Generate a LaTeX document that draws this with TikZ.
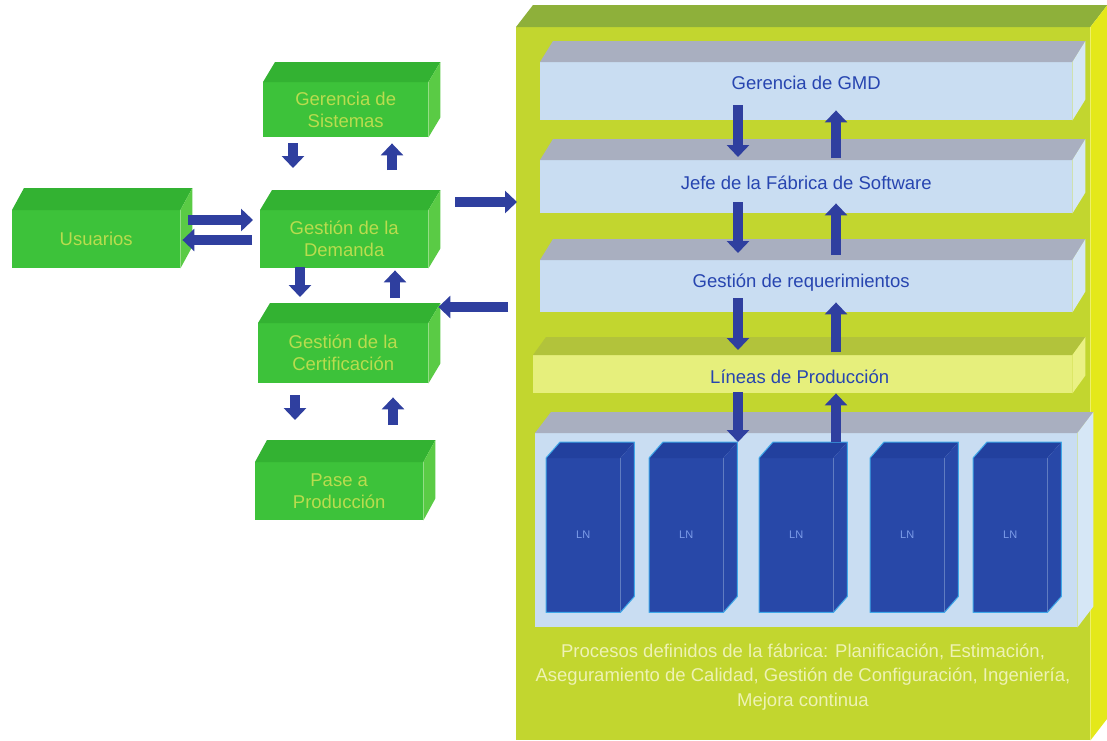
\documentclass[tikz,border=0pt]{standalone}
\usepackage{fontspec}
\setmainfont{Liberation Sans}
\usetikzlibrary{arrows.meta,calc}

\definecolor{gfront}{HTML}{3DC23A}
\definecolor{gtop}{HTML}{33B232}
\definecolor{gside}{HTML}{5ACB45}
\definecolor{gtext}{HTML}{B9DC4E}
\definecolor{fabfront}{HTML}{C2D62F}
\definecolor{fabtop}{HTML}{8EB03A}
\definecolor{fabside}{HTML}{E4E81A}
\definecolor{slabtop}{HTML}{A9AFC0}
\definecolor{slabfront}{HTML}{C9DDF2}
\definecolor{slabside}{HTML}{D6E7F6}
\definecolor{lptop}{HTML}{B2C33B}
\definecolor{lpfront}{HTML}{E6EF7C}
\definecolor{lpside}{HTML}{EAF184}
\definecolor{lnfront}{HTML}{2848A8}
\definecolor{lntop}{HTML}{22409E}
\definecolor{lnedge}{HTML}{3FA8E8}
\definecolor{lnlabel}{HTML}{7C9CE8}
\definecolor{arrowblue}{HTML}{2F3F9F}
\definecolor{slabtext}{HTML}{2745B0}
\definecolor{proctext}{HTML}{EEF2B4}

% top and side faces of a box whose front face is the node #1
\newcommand\boxfaces[5]{%
  \path[#4] (#1.north west) -- ++(#2pt,#3pt) -- ($(#1.north east)+(#2pt,#3pt)$) -- (#1.north east) -- cycle;
  \path[#5] (#1.north east) -- ++(#2pt,#3pt) -- ($(#1.south east)+(#2pt,#3pt)$) -- (#1.south east) -- cycle;}
% outline of such a box
\newcommand\boxoutline[4]{%
  \draw[#4] (#1.north west) -- ++(#2pt,#3pt) -- ($(#1.north east)+(#2pt,#3pt)$)
    -- ($(#1.south east)+(#2pt,#3pt)$) -- (#1.south east) -- (#1.south west) -- cycle;}

\begin{document}
\begin{tikzpicture}[x=1pt,y=-1pt,
  front/.style={anchor=north west,inner sep=0pt,draw=none},
  greenbox/.style={front,fill=gfront,text=gtext,align=center,
    font=\fontsize{18.5}{22}\selectfont},
  slab/.style={front,fill=slabfront},
  slablbl/.style={text=slabtext,font=\fontsize{18.5}{22}\selectfont,inner sep=0pt},
  lnbox/.style={front,fill=lnfront,
    minimum width=74pt,minimum height=154pt,text=lnlabel,
    font=\fontsize{11}{13}\selectfont},
  barrow/.style={draw=arrowblue,line width=10pt,
    -{Triangle[width=22pt,length=12pt]}},
]
\useasboundingbox (0,0) rectangle (1107,740);
\fill[white] (0,0) rectangle (1107,740);

% ---------- software factory ----------
\node[front,fill=fabfront,minimum width=574pt,minimum height=713pt] (fab) at (516,27) {};
\boxfaces{fab}{17}{22}{fill=fabtop}{fill=fabside}

\node[slab,minimum width=532pt,minimum height=58pt] (s1) at (540,62) {};
\boxfaces{s1}{13}{21}{fill=slabtop}{fill=slabside}
\node[slab,minimum width=532pt,minimum height=53pt] (s2) at (540,160) {};
\boxfaces{s2}{13}{21}{fill=slabtop}{fill=slabside}
\node[slab,minimum width=532pt,minimum height=52pt] (s3) at (540,260) {};
\boxfaces{s3}{13}{21}{fill=slabtop}{fill=slabside}
\node[front,fill=lpfront,minimum width=539pt,minimum height=38pt] (lp) at (533,355) {};
\boxfaces{lp}{13}{18}{fill=lptop}{fill=lpside}
\node[slab,minimum width=542pt,minimum height=194pt] (pool) at (535,433) {};
\boxfaces{pool}{16}{21}{fill=slabtop}{fill=slabside}

\node[slablbl] (t1) at ($(s1.center)+(0,-8)$) {Gerencia de GMD};
\node[slablbl] (t2) at ($(s2.center)+(0,-4)$) {Jefe de la Fábrica de Software};
\node[slablbl] (t3) at ($(s3.center)+(-5,-4)$) {Gestión de requerimientos};
\node[slablbl] (t4) at ($(lp.center)+(-3,3)$) {Líneas de Producción};

% production lines
\foreach \i/\x in {1/546,2/649,3/759,4/870,5/973}{
  \node[lnbox] (ln\i) at (\x,458) {LN};
  \boxfaces{ln\i}{14}{16}{fill=lntop}{fill=lnfront}
  \boxoutline{ln\i}{14}{16}{lnedge,line width=1pt,line join=round}
}

\node[text=proctext,align=center,font=\fontsize{18.5}{24.5}\selectfont] (proc) at (803,677)
  {Procesos definidos de la fábrica: Planificación, Estimación,\\
   Aseguramiento de Calidad, Gestión de Configuración, Ingeniería,\\
   Mejora continua};

% vertical flows inside the factory
\coordinate (colD) at (738,0);
\coordinate (colU) at (836,0);
\draw[barrow] ($(colD |- s1.south)+(0,-15)$) -- ($(colD |- s2.north)+(0,-3)$);
\draw[barrow] ($(colU |- s2.north)+(0,-2)$) -- ($(colU |- s1.south)+(0,-10)$);
\draw[barrow] ($(colD |- s2.south)+(0,-11)$) -- ($(colD |- s3.north)+(0,-7)$);
\draw[barrow] ($(colU |- s3.north)+(0,-5)$) -- ($(colU |- s2.south)+(0,-10)$);
\draw[barrow] ($(colD |- s3.south)+(0,-14)$) -- ($(colD |- lp.north)+(0,-5)$);
\draw[barrow] ($(colU |- lp.north)+(0,-3)$) -- ($(colU |- s3.south)+(0,-10)$);
\draw[barrow] ($(colD |- lp.south)+(0,-1)$) -- ($(colD |- pool.north)+(0,9)$);
\draw[barrow] ($(colU |- ln3.north)+(0,-16)$) -- ($(colU |- lp.south)+(0,0)$);

% ---------- demand side ----------
\node[greenbox,minimum width=165pt,minimum height=55pt] (gs) at (263,82) {Gerencia de\\Sistemas};
\boxfaces{gs}{12}{20}{fill=gtop}{fill=gside}
\node[greenbox,minimum width=168pt,minimum height=58pt] (us) at (12,210) {Usuarios};
\boxfaces{us}{12}{22}{fill=gtop}{fill=gside}
\node[greenbox,minimum width=168pt,minimum height=58pt] (gd) at (260,210) {Gestión de la\\Demanda};
\boxfaces{gd}{12}{20}{fill=gtop}{fill=gside}
\node[greenbox,minimum width=170pt,minimum height=60pt] (gc) at (258,323) {Gestión de la\\Certificación};
\boxfaces{gc}{12}{20}{fill=gtop}{fill=gside}
\node[greenbox,minimum width=168pt,minimum height=58pt] (gp) at (255,462) {Pase a\\Producción};
\boxfaces{gp}{12}{22}{fill=gtop}{fill=gside}

\draw[barrow] ($(gs.south west)+(30,6)$) -- ($(gd.north west)+(33,-42)$);
\draw[barrow] ($(gd.north west)+(132,-40)$) -- ($(gs.south west)+(129,6)$);
\draw[barrow] ($(us.north east)+(8,10)$) -- ($(gd.north west)+(-7,10)$);
\draw[barrow] ($(gd.north west)+(-8,30)$) -- ($(us.north east)+(2,30)$);
\draw[barrow] ($(gd.north east)+(27,-8)$) -- ($(fab.north west)+(1,175)$);
\draw[barrow] ($(fab.north west)+(-8,280)$) -- ($(gc.north east)+(10,-16)$);
\draw[barrow] ($(gd.south west)+(40,-1)$) -- ($(gc.north west)+(42,-26)$);
\draw[barrow] ($(gc.north west)+(137,-25)$) -- ($(gd.south west)+(135,2)$);
\draw[barrow] ($(gc.south west)+(37,12)$) -- ($(gp.north west)+(40,-42)$);
\draw[barrow] ($(gp.north west)+(138,-37)$) -- ($(gc.south west)+(135,14)$);
\end{tikzpicture}
\end{document}
